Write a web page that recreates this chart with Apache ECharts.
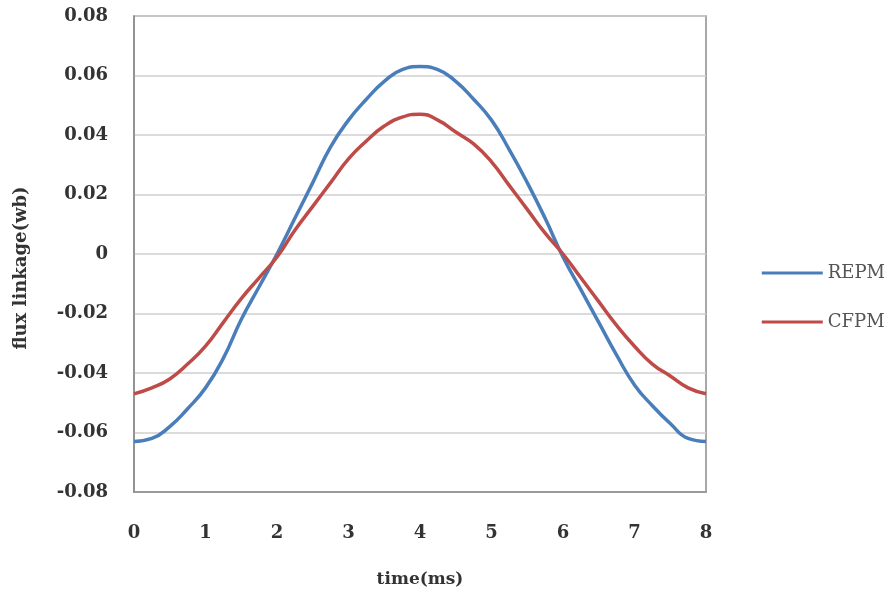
<!DOCTYPE html>
<html>
<head>
<meta charset="utf-8">
<script src="https://cdn.jsdelivr.net/npm/echarts@6/dist/echarts.min.js"></script>
<style>
  html, body { margin: 0; padding: 0; background: #fff; }
  #chart { width: 894px; height: 600px; }
</style>
</head>
<body>
<div id="chart"></div>
<script>
// time samples (ms)
const timeMs = [0, 0.25, 0.5, 0.75, 1, 1.25, 1.5, 1.75, 2, 2.25, 2.5, 2.75, 3, 3.25, 3.5, 3.75,
                4, 4.25, 4.5, 4.75, 5, 5.25, 5.5, 5.75, 6, 6.25, 6.5, 6.75, 7, 7.25, 7.5, 7.75, 8];

// flux linkage (Wb) for each machine
const repm = [-0.063, -0.062, -0.058, -0.052, -0.045, -0.035, -0.022, -0.011, 0.000, 0.012, 0.024,
              0.036, 0.045, 0.052, 0.058, 0.062, 0.063, 0.062, 0.058, 0.052, 0.045, 0.035, 0.024,
              0.012, -0.001, -0.012, -0.023, -0.034, -0.044, -0.051, -0.057, -0.062, -0.063];
const cfpm = [-0.047, -0.045, -0.042, -0.037, -0.031, -0.023, -0.015, -0.008, -0.001, 0.008, 0.016,
              0.024, 0.032, 0.038, 0.043, 0.046, 0.047, 0.045, 0.041, 0.037, 0.031, 0.023, 0.015,
              0.007, 0.000, -0.008, -0.016, -0.024, -0.031, -0.037, -0.041, -0.045, -0.047];

const seriesNames = ['REPM', 'CFPM'];
const seriesColors = ['#4a7ebb', '#be4b48'];

const font = '"DejaVu Serif", "Liberation Serif", serif';
const chart = echarts.init(document.getElementById('chart'));

chart.setOption({
  animation: false,
  grid: {
    left: 134, right: 188, top: 16, bottom: 108,
    show: true, borderColor: '#8c8c8c', borderWidth: 1.5, backgroundColor: 'transparent'
  },
  legend: {
    orient: 'vertical',
    right: 4, top: 259,
    icon: 'rect',
    itemWidth: 61, itemHeight: 3,
    itemGap: 31,
    textStyle: { fontFamily: font, fontSize: 18, color: '#555', padding: [0, 0, 0, 0] },
    data: seriesNames
  },
  xAxis: {
    type: 'value',
    min: 0, max: 8, interval: 1,
    name: 'time(ms)',
    nameLocation: 'middle',
    nameGap: 79,
    nameTextStyle: { fontFamily: font, fontSize: 17, fontWeight: 'bold', color: '#333' },
    axisLine: { show: true, onZero: false, lineStyle: { color: '#8c8c8c', width: 1.5 } },
    axisTick: { show: false },
    splitLine: { show: false },
    axisLabel: { margin: 32, fontFamily: font, fontSize: 18, fontWeight: 'bold', color: '#333' }
  },
  yAxis: {
    type: 'value',
    min: -0.08, max: 0.08, interval: 0.02,
    name: 'flux linkage(wb)',
    nameLocation: 'middle',
    nameGap: 104,
    nameTextStyle: {
      fontFamily: font, fontSize: 18, fontWeight: 'bold', color: '#333',
      padding: [0, 28, 0, 0]
    },
    axisLine: { show: true, lineStyle: { color: '#8c8c8c', width: 1.5 } },
    axisTick: { show: false },
    splitLine: { show: true, lineStyle: { color: '#cfcfcf', width: 1.5 } },
    axisLabel: {
      margin: 26, fontFamily: font, fontSize: 18, fontWeight: 'bold', color: '#333',
      formatter: v => (Math.abs(v) < 1e-9 ? '0' : v.toFixed(2))
    }
  },
  series: [
    {
      name: seriesNames[0], type: 'line', smooth: true, showSymbol: false,
      color: seriesColors[0], lineStyle: { width: 3.5, color: seriesColors[0] },
      data: timeMs.map((t, i) => [t, repm[i]])
    },
    {
      name: seriesNames[1], type: 'line', smooth: true, showSymbol: false,
      color: seriesColors[1], lineStyle: { width: 3.5, color: seriesColors[1] },
      data: timeMs.map((t, i) => [t, cfpm[i]])
    }
  ]
});
</script>
</body>
</html>
